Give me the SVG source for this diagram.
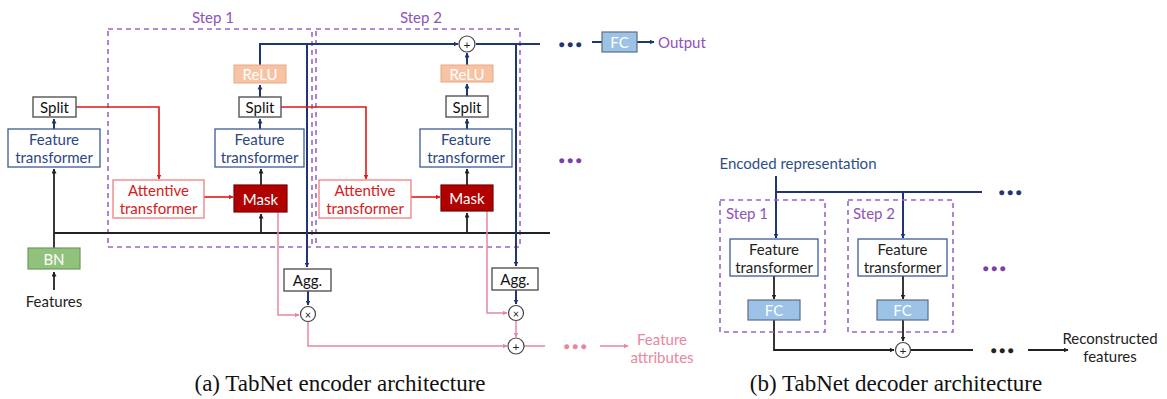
<svg xmlns="http://www.w3.org/2000/svg" width="1167" height="399" viewBox="0 0 1167 399">
<style>
text{font-family:Lato,"Open Sans","Liberation Sans",sans-serif;text-anchor:middle;dominant-baseline:central}
.cap{font-family:"Liberation Serif",serif;font-size:23px;fill:#111}
.t{font-size:15px}
.step{fill:none;stroke:#9B66CC;stroke-width:1.6;stroke-dasharray:5 4}
.steplbl{fill:#8E52B8;font-size:15px}
.ft{fill:#fff;stroke:#3D5A98;stroke-width:1.3}
.ftt{fill:#2C4684;font-size:15px}
.plain{fill:#fff;stroke:#555;stroke-width:1.4}
.att{fill:#fff;stroke:#EE7F7F;stroke-width:1.3}
.attt{fill:#D62020;font-size:15px}
.mask{fill:#B00000;stroke:#7A0000;stroke-width:1.2}
.relu{fill:#F8C3A2;stroke:#E4A986;stroke-width:1}
.bn{fill:#91C27C;stroke:#6F9A60;stroke-width:1.2}
.fc{fill:#9CC2E5;stroke:#5B6E86;stroke-width:1.2}
.wt{fill:#fff;font-size:15px}
.circ{fill:#fff;stroke:#444;stroke-width:1.2}
.nv{fill:none;stroke:#1F3673;stroke-width:2}
.bk{fill:none;stroke:#222;stroke-width:1.8}
.rd{fill:none;stroke:#E01818;stroke-width:1.6}
.pk{fill:none;stroke:#E8879D;stroke-width:1.5}
.dots{font-size:10px;font-weight:bold}
</style>
<defs>
<marker id="aN" viewBox="0 0 10 10" refX="9" refY="5" markerWidth="5" markerHeight="5" orient="auto" markerUnits="userSpaceOnUse"><path d="M0,0L10,5L0,10z" fill="#1F3673"/></marker>
<marker id="aK" viewBox="0 0 10 10" refX="9" refY="5" markerWidth="5" markerHeight="5" orient="auto" markerUnits="userSpaceOnUse"><path d="M0,0L10,5L0,10z" fill="#222"/></marker>
<marker id="aR" viewBox="0 0 10 10" refX="9" refY="5" markerWidth="5" markerHeight="5" orient="auto" markerUnits="userSpaceOnUse"><path d="M0,0L10,5L0,10z" fill="#E01818"/></marker>
<marker id="aP" viewBox="0 0 10 10" refX="9" refY="5" markerWidth="5" markerHeight="5" orient="auto" markerUnits="userSpaceOnUse"><path d="M0,0L10,5L0,10z" fill="#E8879D"/></marker>
</defs>

<!-- step boxes encoder -->
<g id="step1">
<rect class="step" x="108" y="29" width="204" height="218"/>
<text class="steplbl" x="213" y="17">Step 1</text>
</g>
<g id="step2">
<rect class="step" x="316" y="29" width="204" height="218"/>
<text class="steplbl" x="421" y="17">Step 2</text>
</g>

<!-- connectors -->
<g id="connectors">
<!-- encoder black -->
<path class="bk" d="M54,290V272" marker-end="url(#aK)"/>
<path class="bk" d="M54,248V169" marker-end="url(#aK)"/>
<path class="bk" d="M54,233H550"/>
<path class="bk" d="M261,233V214" marker-end="url(#aK)"/>
<path class="bk" d="M467,233V213" marker-end="url(#aK)"/>
<path class="bk" d="M261,185V169" marker-end="url(#aK)"/>
<path class="bk" d="M467,185V169" marker-end="url(#aK)"/>
<!-- encoder navy -->
<path class="nv" d="M54,129V119" marker-end="url(#aN)"/>
<path class="nv" d="M260,129V119" marker-end="url(#aN)"/>
<path class="nv" d="M260,97V85" marker-end="url(#aN)"/>
<path class="nv" d="M467,129V119" marker-end="url(#aN)"/>
<path class="nv" d="M467,96V84" marker-end="url(#aN)"/>
<path class="nv" d="M467,65V53" marker-end="url(#aN)"/>
<path class="nv" d="M260,65V44H458" marker-end="url(#aN)"/>
<path class="nv" d="M476,44H540"/>
<path class="nv" d="M307,44V267" marker-end="url(#aN)"/>
<path class="nv" d="M516,44V266" marker-end="url(#aN)"/>
<path class="nv" d="M308,291V305" marker-end="url(#aN)"/>
<path class="nv" d="M516,290V304" marker-end="url(#aN)"/>
<path class="nv" d="M592,42H602"/>
<path class="nv" d="M637,42H654" marker-end="url(#aN)"/>
<!-- encoder red -->
<path class="rd" d="M76,107H159V179" marker-end="url(#aR)"/>
<path class="rd" d="M281,107H366V179" marker-end="url(#aR)"/>
<path class="rd" d="M204,197H233" marker-end="url(#aR)"/>
<path class="rd" d="M411,197H440" marker-end="url(#aR)"/>
<!-- encoder pink -->
<path class="pk" d="M278,212V315H299" marker-end="url(#aP)"/>
<path class="pk" d="M487,211V313H507" marker-end="url(#aP)"/>
<path class="pk" d="M308,322V346H507" marker-end="url(#aP)"/>
<path class="pk" d="M516,320V337" marker-end="url(#aP)"/>
<path class="pk" d="M524,346H545"/>
<path class="pk" d="M600,346H628" marker-end="url(#aP)"/>
<!-- decoder -->
<path class="nv" d="M776,176V238" marker-end="url(#aN)"/>
<path class="nv" d="M776,192H982"/>
<path class="nv" d="M903,192V238" marker-end="url(#aN)"/>
<path class="bk" d="M774,276V299" marker-end="url(#aK)"/>
<path class="bk" d="M903,276V299" marker-end="url(#aK)"/>
<path class="bk" d="M774,320V350H894" marker-end="url(#aK)"/>
<path class="bk" d="M903,320V341" marker-end="url(#aK)"/>
<path class="bk" d="M911,350H973"/>
<path class="bk" d="M1028,350H1068" marker-end="url(#aK)"/>
</g>

<!-- encoder nodes -->
<g id="features"><text class="t" x="54" y="301" fill="#222">Features</text></g>
<g id="bn"><rect class="bn" x="28" y="248" width="52" height="21"/><text class="wt" x="54" y="258.5">BN</text></g>
<g id="ft0"><rect class="ft" x="8" y="129" width="92" height="38"/><text class="ftt" x="54" y="139">Feature</text><text class="ftt" x="54" y="157">transformer</text></g>
<g id="split0"><rect class="plain" x="33" y="97" width="43" height="20"/><text class="t" x="54.5" y="107" fill="#111">Split</text></g>

<g id="att1"><rect class="att" x="113" y="180" width="91" height="38"/><text class="attt" x="158.5" y="190">Attentive</text><text class="attt" x="158.5" y="208">transformer</text></g>
<g id="mask1"><rect class="mask" x="234" y="185" width="53" height="27"/><text class="wt" x="260.5" y="198.5">Mask</text></g>
<g id="ft1"><rect class="ft" x="215" y="129" width="89" height="38"/><text class="ftt" x="259.5" y="139">Feature</text><text class="ftt" x="259.5" y="157">transformer</text></g>
<g id="split1"><rect class="plain" x="239" y="97" width="42" height="20"/><text class="t" x="260" y="107" fill="#111">Split</text></g>
<g id="relu1"><rect class="relu" x="234" y="65" width="52" height="18"/><text class="wt" x="260" y="74">ReLU</text></g>

<g id="att2"><rect class="att" x="319" y="180" width="92" height="38"/><text class="attt" x="365" y="190">Attentive</text><text class="attt" x="365" y="208">transformer</text></g>
<g id="mask2"><rect class="mask" x="441" y="185" width="52" height="26"/><text class="wt" x="467" y="198">Mask</text></g>
<g id="ft2"><rect class="ft" x="420" y="129" width="92" height="38"/><text class="ftt" x="466" y="139">Feature</text><text class="ftt" x="466" y="157">transformer</text></g>
<g id="split2"><rect class="plain" x="446" y="96" width="42" height="21"/><text class="t" x="467" y="106.5" fill="#111">Split</text></g>
<g id="relu2"><rect class="relu" x="441" y="65" width="52" height="17"/><text class="wt" x="467" y="73.5">ReLU</text></g>
<g id="plus-top"><circle class="circ" cx="467" cy="44" r="8"/><text x="467" y="44" font-size="12" fill="#222">+</text></g>

<g id="dots-top"><text class="dots" x="570" y="44" fill="#1F3673">● ● ●</text></g>
<g id="dots-mid"><text class="dots" x="570" y="160" fill="#7A3FAA">● ● ●</text></g>
<g id="fc-out"><rect class="fc" x="602" y="32" width="35" height="20"/><text class="wt" x="619.5" y="42">FC</text></g>
<g id="output"><text x="658" y="42" font-size="15" fill="#8E52B8" style="text-anchor:start">Output</text></g>

<g id="agg1"><rect class="plain" x="284" y="269" width="47" height="22"/><text class="t" x="307.5" y="280" fill="#111">Agg.</text></g>
<g id="agg2"><rect class="plain" x="492" y="268" width="46" height="22"/><text class="t" x="515" y="279" fill="#111">Agg.</text></g>
<g id="mul1"><circle class="circ" cx="308" cy="314" r="7.5"/><text x="308" y="314" font-size="11" fill="#222">×</text></g>
<g id="mul2"><circle class="circ" cx="516" cy="313" r="7.5"/><text x="516" y="313" font-size="11" fill="#222">×</text></g>
<g id="plus-bot"><circle class="circ" cx="516" cy="346" r="8"/><text x="516" y="346" font-size="12" fill="#222">+</text></g>
<g id="dots-pink"><text class="dots" x="575" y="346" fill="#E8879D">● ● ●</text></g>
<g id="feat-attr"><text x="662" y="339" font-size="15" fill="#E8879D">Feature</text><text x="662" y="357" font-size="15" fill="#E8879D">attributes</text></g>

<!-- decoder nodes -->
<g id="enc-rep"><text x="798" y="163" font-size="15" fill="#2F4F86">Encoded representation</text></g>
<g id="dots-dec-top"><text class="dots" x="1010" y="192" fill="#1F3673">● ● ●</text></g>
<g id="dstep1"><rect class="step" x="720" y="200" width="105" height="132"/><text class="steplbl" x="726" y="213" style="text-anchor:start">Step 1</text></g>
<g id="dstep2"><rect class="step" x="848" y="200" width="105" height="132"/><text class="steplbl" x="853" y="213" style="text-anchor:start">Step 2</text></g>
<g id="dft1"><rect class="ft" x="730" y="239" width="88" height="37"/><text class="ftt" x="774" y="249" style="fill:#222">Feature</text><text class="ftt" x="774" y="267" style="fill:#222">transformer</text></g>
<g id="dft2"><rect class="ft" x="858" y="239" width="89" height="37"/><text class="ftt" x="902.5" y="249" style="fill:#222">Feature</text><text class="ftt" x="902.5" y="267" style="fill:#222">transformer</text></g>
<g id="dfc1"><rect class="fc" x="748" y="300" width="52" height="20"/><text class="wt" x="774" y="310">FC</text></g>
<g id="dfc2"><rect class="fc" x="877" y="300" width="51" height="20"/><text class="wt" x="902.5" y="310">FC</text></g>
<g id="dots-dec-mid"><text class="dots" x="994" y="268" fill="#7A3FAA">● ● ●</text></g>
<g id="dplus"><circle class="circ" cx="903" cy="350" r="7.5"/><text x="903" y="350" font-size="12" fill="#222">+</text></g>
<g id="dots-dec-bot"><text class="dots" x="1002" y="350" fill="#222">● ● ●</text></g>
<g id="recon"><text x="1110" y="338" font-size="15" fill="#222">Reconstructed</text><text x="1110" y="356" font-size="15" fill="#222">features</text></g>

<g id="captions">
<text class="cap" x="340" y="383">(a)  TabNet encoder architecture</text>
<text class="cap" x="896" y="383">(b)  TabNet decoder architecture</text>
</g>
</svg>
